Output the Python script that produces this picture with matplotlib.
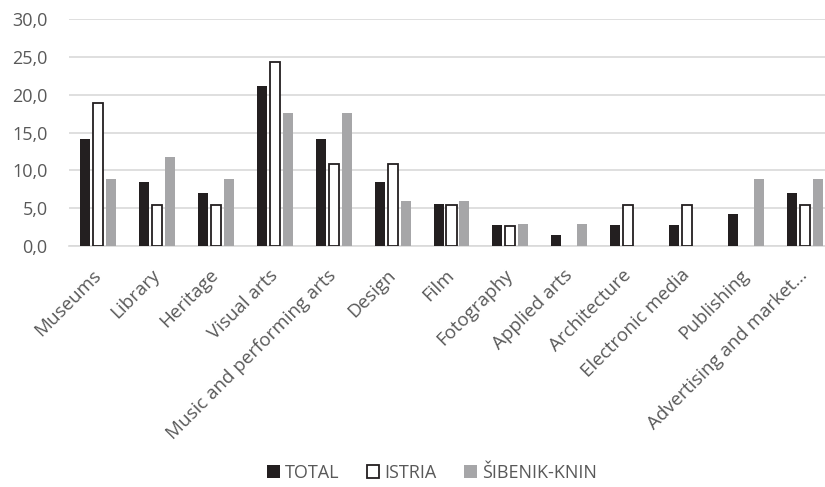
import numpy as np
import matplotlib.pyplot as plt
from matplotlib.ticker import FuncFormatter

categories = ['Museums', 'Library', 'Heritage', 'Visual arts', 'Music and performing arts',
              'Design', 'Film', 'Fotography', 'Applied arts', 'Architecture',
              'Electronic media', 'Publishing', 'Advertising and market...']
total = [14.1, 8.4, 7.0, 21.1, 14.1, 8.4, 5.6, 2.8, 1.4, 2.8, 2.8, 4.2, 7.0]
istria = [18.9, 5.4, 5.4, 24.3, 10.8, 10.8, 5.4, 2.7, 0.0, 5.4, 5.4, 0.0, 5.4]
sibenik = [8.8, 11.8, 8.8, 17.6, 17.6, 5.9, 5.9, 2.9, 2.9, 0.0, 0.0, 8.8, 8.8]

plt.rcParams['font.family'] = ['Open Sans', 'DejaVu Sans']
txt = '#595959'

fig = plt.figure(figsize=(8.25, 4.87), dpi=100)
ax = fig.add_axes([68.5 / 825, 1 - 246 / 487, 766 / 825, 227 / 487])

x = np.arange(len(categories))
w = 0.17
off = 0.22
ax.bar(x - off, total, w, color='#231f20', label='TOTAL', zorder=3)
# no outline for empty bars
lw = [1.3 if v > 0 else 0 for v in istria]
ax.bar(x, istria, w, color='white', edgecolor='#231f20', linewidth=lw, label='ISTRIA', zorder=3)
ax.bar(x + off, sibenik, w, color='#a6a6a8', label='ŠIBENIK-KNIN', zorder=3)

ax.set_ylim(0, 30)
ax.set_xlim(-0.5, 12.5)
ax.set_yticks(range(0, 31, 5))
ax.yaxis.set_major_formatter(FuncFormatter(lambda v, p: f'{v:.1f}'.replace('.', ',')))
ax.grid(axis='y', color='#d9d9d9', linewidth=1.2, zorder=0)
for s in ['top', 'right', 'left']:
    ax.spines[s].set_visible(False)
ax.spines['bottom'].set_color('#d9d9d9')
ax.spines['bottom'].set_linewidth(1.2)
ax.tick_params(axis='both', length=0, labelsize=13, colors=txt)
ax.tick_params(axis='y', pad=15)
ax.tick_params(axis='x', pad=19, labelsize=13.5)
ax.set_xticks(x)
ax.set_xticklabels(categories, rotation=45, ha='right', va='center', rotation_mode='anchor')

fig.legend(loc='center', bbox_to_anchor=(432 / 825, 1 - 473 / 487), ncol=3, frameon=False,
           fontsize=13, labelcolor=txt, handlelength=0.7, handleheight=0.7,
           handletextpad=0.3, columnspacing=1.5)

fig.savefig('out.png', dpi=100)
